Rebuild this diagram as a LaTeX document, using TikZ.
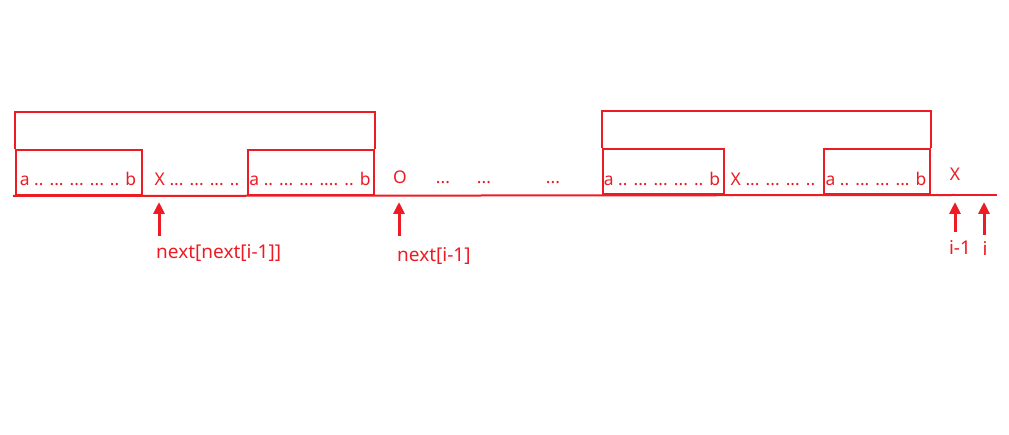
\documentclass[tikz,border=0pt]{standalone}
\usepackage{fontspec}
\setmainfont{Noto Sans}
\usetikzlibrary{arrows.meta}
\definecolor{pred}{RGB}{237,28,36}
\tikzset{
  seg/.style={draw=pred, line width=2pt, minimum height=45pt, inner sep=0pt, anchor=south west},
  txt/.style={text=pred, font=\fontsize{17.5}{19}\selectfont, inner sep=0pt, anchor=base},
  lbl/.style={text=pred, font=\fontsize{19}{21}\selectfont, inner sep=0pt, anchor=base west},
  ptr/.style={draw=pred, line width=3pt, -{Triangle[width=11pt,length=12pt]}},
  brk/.style={draw=pred, line width=2pt},
}
\begin{document}
\begin{tikzpicture}[x=1pt,y=-1pt]
\useasboundingbox (0,0) rectangle (1009,435);
% baseline
\coordinate (L0) at (13,196);
\coordinate (L1) at (954,195);
\coordinate (L2) at (997,195);
\draw[brk] (L0) -- (L1);
\draw[draw=pred, line width=1.4pt] (L1) -- (L2);
% boxes
\node[seg, minimum width=126pt] (b1) at (15,196) {};
\node[seg, minimum width=126pt] (b2) at (247,196) {};
\node[seg, minimum width=121pt] (b3) at (602,195) {};
\node[seg, minimum width=106pt] (b4) at (823,195) {};
% brackets
\draw[brk] (b1.north west) -- ++(0,-37) -| (b2.north east);
\draw[brk] (b3.north west) -- ++(0,-37) -| (b4.north east);
% texts
\node[txt] (t1) at (78,186) {a .. ... ... ... .. b};
\node[txt] (t2) at (197,186) {X ... ... ... ..};
\node[txt] (t3) at (310,186) {a .. ... ... .... .. b};
\node[txt] (t4) at (400,184) {O};
\node[txt] (d1) at (443,184) {...};
\node[txt] (d2) at (484,184) {...};
\node[txt] (d3) at (553,184) {...};
\node[txt] (t5) at (662,186) {a .. ... ... ... .. b};
\node[txt] (t6) at (773,186) {X ... ... ... ..};
\node[txt] (t7) at (876,186) {a .. ... ... ... b};
\node[txt] (t8) at (955,181) {X};
% labels
\node[lbl] (n1) at (156,259) {next[next[i-1]]};
\node[lbl] (n2) at (397,262) {next[i-1]};
\node[lbl, anchor=base] (n3) at (960,255) {i-1};
\node[lbl, anchor=base] (n4) at (985,256) {i};
% arrow tips
\coordinate (p1) at (159,202);
\coordinate (p2) at (399,202);
\coordinate (p3) at (955,202);
\coordinate (p4) at (984,202);
\draw[ptr] (159,236) -- (p1);
\draw[ptr] (399,236) -- (p2);
\draw[ptr] (955,232) -- (p3);
\draw[ptr] (984,235) -- (p4);
\end{tikzpicture}
\end{document}
